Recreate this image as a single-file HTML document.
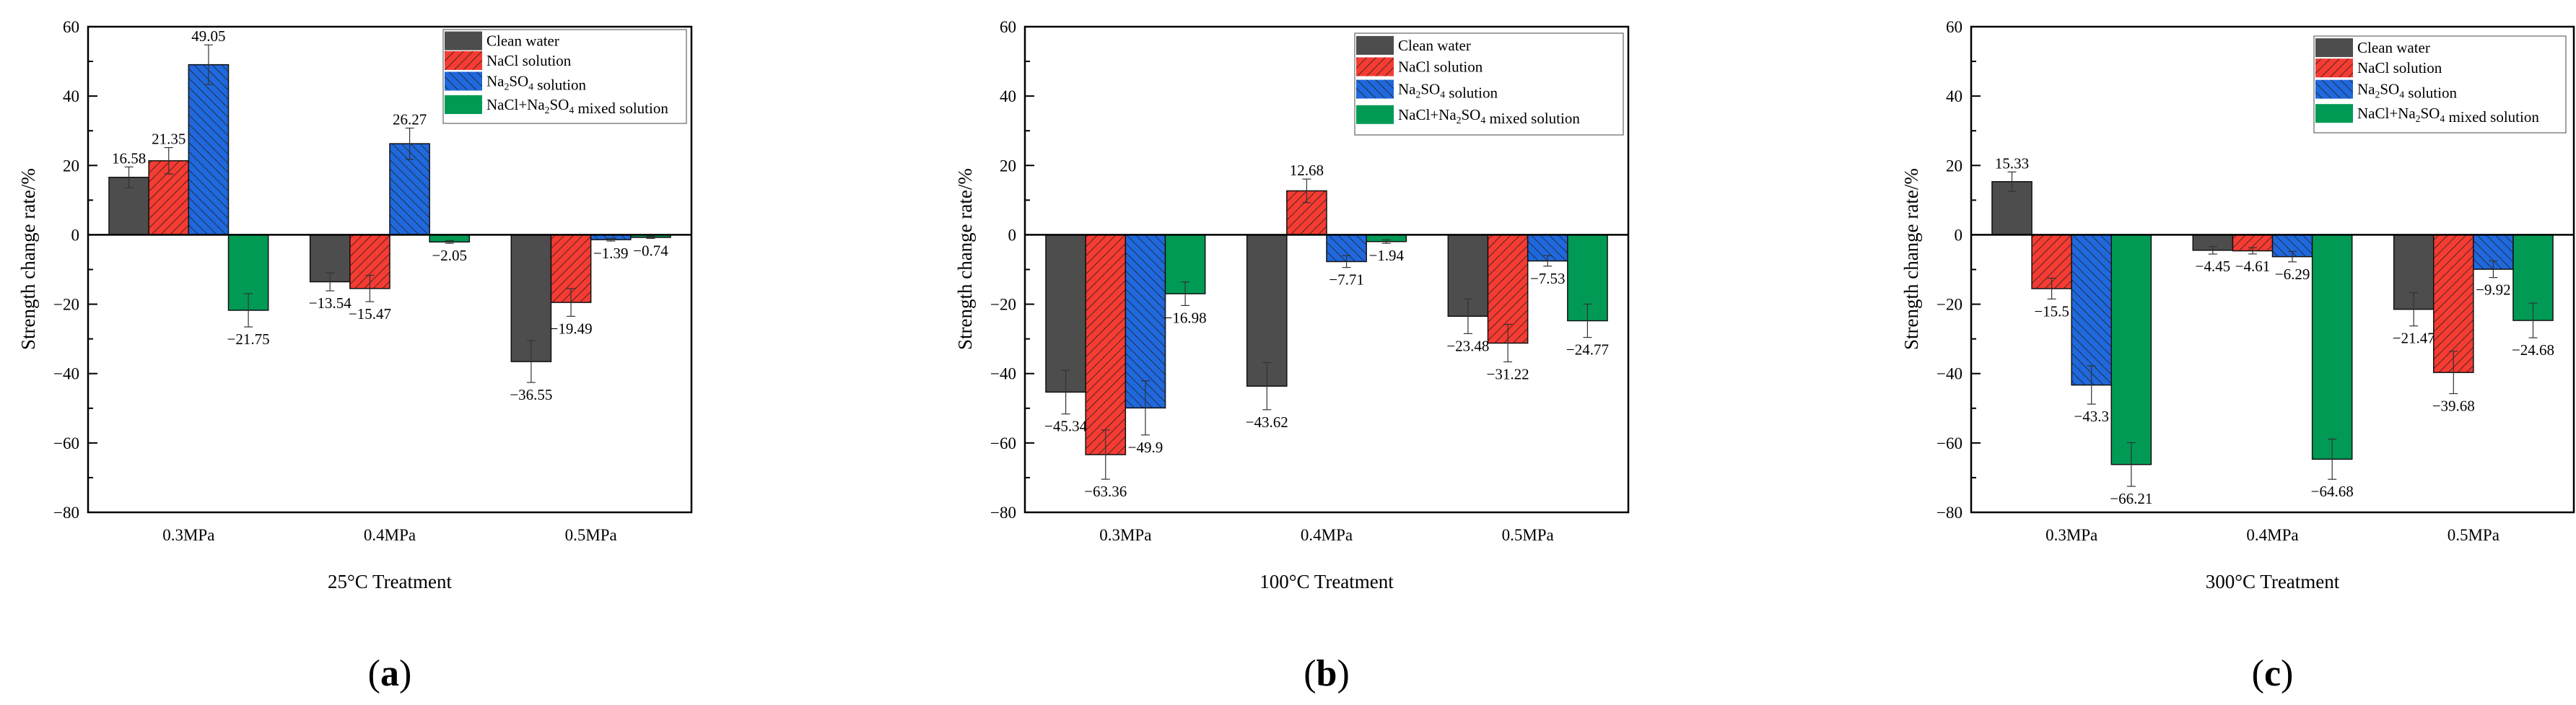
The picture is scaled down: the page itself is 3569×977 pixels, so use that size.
<!DOCTYPE html>
<html><head><meta charset="utf-8"><style>
html,body{margin:0;padding:0;background:#fff;}
svg{display:block;font-family:"Liberation Serif",serif;}
</style></head><body>
<svg id="chart" width="3569" height="977" viewBox="0 0 3569 977" xmlns="http://www.w3.org/2000/svg">
<defs>
<pattern id="hatchRed" patternUnits="userSpaceOnUse" width="9" height="9" patternTransform="rotate(45)">
<rect width="9" height="9" fill="#f53b32"/><line x1="0" y1="0" x2="0" y2="9" stroke="#222" stroke-width="1.6"/></pattern>
<pattern id="hatchBlue" patternUnits="userSpaceOnUse" width="9" height="9" patternTransform="rotate(-45)">
<rect width="9" height="9" fill="#1f68dd"/><line x1="0" y1="0" x2="0" y2="9" stroke="#222" stroke-width="1.6"/></pattern>
</defs>
</svg>
<script>
const categories = ["0.3MPa","0.4MPa","0.5MPa"];
const seriesNames = ["Clean water","NaCl solution","Na2SO4 solution","NaCl+Na2SO4 mixed solution"];
const panelTitles = ["25°C Treatment","100°C Treatment","300°C Treatment"];
const panelLetters = ["a","b","c"];
const yTicks = [60,40,20,0,-20,-40,-60,-80];
// values[panel][series][category]
const valuesA = [[16.58,-13.54,-36.55],[21.35,-15.47,-19.49],[49.05,26.27,-1.39],[-21.75,-2.05,-0.74]];
const valuesB = [[-45.34,-43.62,-23.48],[-63.36,12.68,-31.22],[-49.9,-7.71,-7.53],[-16.98,-1.94,-24.77]];
const valuesC = [[15.33,-4.45,-21.47],[-15.5,-4.61,-39.68],[-43.3,-6.29,-9.92],[-66.21,-64.68,-24.68]];
const errorsA = [[3,2.6,6],[3.8,3.8,4],[5.7,4.5,0.4],[4.8,0.4,0.3]];
const errorsB = [[6.3,6.8,5],[7.1,3.4,5.4],[7.8,1.7,1.5],[3.4,0.5,4.8]];
const errorsC = [[2.8,1.1,4.8],[3,0.9,6.1],[5.5,1.5,2.4],[6.3,5.8,5]];

const panelValues=[valuesA,valuesB,valuesC], panelErrors=[errorsA,errorsB,errorsC];
const panels=[{l:122,r:958,leg:[614,41,951,171]},{l:1420,r:2256,leg:[1877,46,2249,187]},{l:2731,r:3566,leg:[3206,50,3555,184]}];
const fills=["#4d4d4d","url(#hatchRed)","url(#hatchBlue)","#009a55"];
const Y0=37,Y1=710,ymax=60,ymin=-80;
const svg=document.getElementById('chart');
const NS="http://www.w3.org/2000/svg";
function mk(tag,attrs,parent){const e=document.createElementNS(NS,tag);for(const k in attrs)e.setAttribute(k,attrs[k]);(parent||svg).appendChild(e);return e;}
function ys(v){return Y0+(ymax-v)/(ymax-ymin)*(Y1-Y0);}
function fmt(v){return (v<0?"\u2212":"")+Math.abs(v);}
function subText(t,x,y,size,parent){
  const e=mk('text',{x:x,y:y,'font-size':size},parent);
  const parts=t.split(/(Na2SO4)/);
  parts.forEach(p=>{
    if(p==="Na2SO4"){
      const a=mk('tspan',{},e);a.textContent="Na";
      const b=mk('tspan',{dy:5,'font-size':size*0.65},e);b.textContent="2";
      const c=mk('tspan',{dy:-5},e);c.textContent="SO";
      const d=mk('tspan',{dy:5,'font-size':size*0.65},e);d.textContent="4";
      const f=mk('tspan',{dy:-5},e);f.textContent="";
    } else if(p){const s=mk('tspan',{},e);s.textContent=p;}
  });
  return e;
}
panels.forEach((p,pi)=>{
  const g=mk('g',{});
  
  
  const W=p.r-p.l, bw=W*0.066;
  const xc=i=>p.l+W*(i+0.5)/3;
  // ticks
  for(let v=ymin;v<=ymax;v+=10){
    const major=v%20===0;
    const t=mk('line',{x1:p.l,x2:p.l+(major?13:7),y1:ys(v),y2:ys(v),stroke:'#000','stroke-width':2},g);
    
    
  }
  yTicks.forEach(v=>{
    const t=mk('text',{x:p.l-12,y:ys(v)+8,'font-size':23,'text-anchor':'end'},g);
    
    
    t.textContent=fmt(v);
  });
  // bars
  const vals=panelValues[pi], errs=panelErrors[pi];
  vals.forEach((ser,si)=>{
    ser.forEach((v,ci)=>{
      const x=xc(ci)-2*bw+si*bw;
      const y=Math.min(ys(v),ys(0)), h=Math.abs(ys(v)-ys(0));
      const b=mk('rect',{x:x,y:y,width:bw,height:h,fill:fills[si],stroke:'#111','stroke-width':1.5},g);
      
      
      const e=errs[si][ci], cx=x+bw/2;
      const y1=ys(v+e), y2=ys(v-e);
      mk('line',{x1:cx,x2:cx,y1:y1,y2:y2,stroke:'#333','stroke-width':1.2},g);
      mk('line',{x1:cx-6,x2:cx+6,y1:y1,y2:y1,stroke:'#333','stroke-width':1.2},g);
      mk('line',{x1:cx-6,x2:cx+6,y1:y2,y2:y2,stroke:'#333','stroke-width':1.2},g);
      const ly = v>=0 ? ys(v+e)-5 : ys(v-e)+24;
      const lt=mk('text',{x:cx,y:ly,'font-size':21,'text-anchor':'middle'},g);
      
      
      lt.textContent=fmt(v);
    });
  });
  // zero line and frame
  mk('line',{x1:p.l,x2:p.r,y1:ys(0),y2:ys(0),stroke:'#000','stroke-width':2.5},g);
  const fr=mk('rect',{x:p.l,y:Y0,width:W,height:Y1-Y0,fill:'none',stroke:'#000','stroke-width':2.5},g);
  
  
  categories.forEach((c,ci)=>{
    const t=mk('text',{x:xc(ci),y:749,'font-size':23,'text-anchor':'middle'},g);
    
    
    t.textContent=c;
  });
  const xt=mk('text',{x:p.l+W/2,y:815,'font-size':27,'text-anchor':'middle'},g);
  
  
  xt.textContent=panelTitles[pi];
  const yt=mk('text',{x:0,y:0,'font-size':27,'text-anchor':'middle',transform:`translate(${p.l-74},${ys(-7)}) rotate(-90)`},g);
  
  
  yt.textContent="Strength change rate/%";
  const pl=mk('text',{x:p.l+W/2,y:950,'font-size':52,'text-anchor':'middle'},g);
  
  
  const t1=mk('tspan',{},pl);t1.textContent="(";
  const t2=mk('tspan',{'font-weight':'bold'},pl);t2.textContent=panelLetters[pi];
  const t3=mk('tspan',{},pl);t3.textContent=")";
  // legend
  const [lx0,ly0,lx1,ly1]=p.leg;
  const lg=mk('g',{},g);
  
  
  mk('rect',{x:lx0,y:ly0,width:lx1-lx0,height:ly1-ly0,fill:'#fff',stroke:'#666','stroke-width':1.2},lg);
  const lh=(ly1-ly0);
  const rows=[0.12,0.33,0.55,0.80];
  seriesNames.forEach((n,si)=>{
    const cy=ly0+lh*rows[si];
    const sw=mk('rect',{x:lx0+2,y:cy-13,width:52,height:26,fill:fills[si]},lg);
    
    
    const t=subText(n,lx0+60,cy+7,21,lg);
    
    
  });
});
</script>
</body></html>
